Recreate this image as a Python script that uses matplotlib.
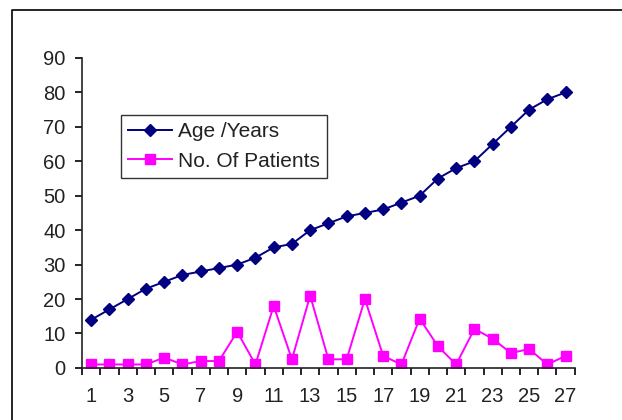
import matplotlib
matplotlib.use("Agg")
import matplotlib.pyplot as plt
from matplotlib.lines import Line2D

plt.rcParams['font.family'] = ['Liberation Sans', 'DejaVu Sans']

cases = list(range(1, 28))
age = [14, 17, 20, 23, 25, 27, 28, 29, 30, 32, 35, 36, 40, 42, 44, 45, 46, 48,
       50, 55, 58, 60, 65, 70, 75, 78, 80]
patients = [1, 1, 1, 1, 3, 1, 2, 2, 10.5, 1, 18, 2.5, 21, 2.5, 2.5, 20, 3.5, 1,
            14.3, 6.3, 1, 11.3, 8.5, 4.3, 5.5, 1, 3.5]
yticks = list(range(0, 100, 10))

fig = plt.figure(figsize=(6.22, 4.2), dpi=100)
ax = fig.add_axes([0.132, 0.124, 0.792, 0.738])

ax.plot(cases, age, color='#000080', marker='D', markersize=6.5, lw=1.4,
        label='Age /Years')
ax.plot(cases, patients, color='#ff00ff', marker='s', markersize=7.5, lw=1.4,
        label='No. Of Patients')

ax.set_xlim(0.5, 27.5)
ax.set_ylim(0, 90)
ax.set_yticks(yticks)
ax.set_xticks([c - 0.5 for c in cases] + [27.5])
ax.set_xticklabels([])
ax.set_xticks(cases[::2], minor=True)
ax.set_xticklabels([str(c) for c in cases[::2]], minor=True)
ax.tick_params(axis='x', which='minor', length=0, pad=14, labelsize=14.5,
               labelcolor='#222222')
ax.tick_params(axis='x', which='major', length=5, width=1.2, direction='out')
ax.tick_params(axis='y', length=5, width=1.2, direction='out', labelsize=14.5,
               pad=7, labelcolor='#222222')
for s in ['top', 'right']:
    ax.spines[s].set_visible(False)
for s in ['left', 'bottom']:
    ax.spines[s].set_linewidth(1.2)
    ax.spines[s].set_color('#222222')

leg = ax.legend(loc='upper left', bbox_to_anchor=(0.079, 0.816), fontsize=15,
                frameon=True, fancybox=False, edgecolor='black', handlelength=2.1,
                borderpad=0.35, labelspacing=0.5, handletextpad=0.3,
                borderaxespad=0)
leg.get_frame().set_linewidth(1.0)
for t in leg.get_texts():
    t.set_color('#222222')

# outer frame of the original picture
fig.add_artist(Line2D([12 / 622, 12 / 622, 1.0], [0.0, 1 - 10 / 420, 1 - 10 / 420],
                      transform=fig.transFigure, color='black', lw=1.2))

fig.savefig('out.png', dpi=100)
